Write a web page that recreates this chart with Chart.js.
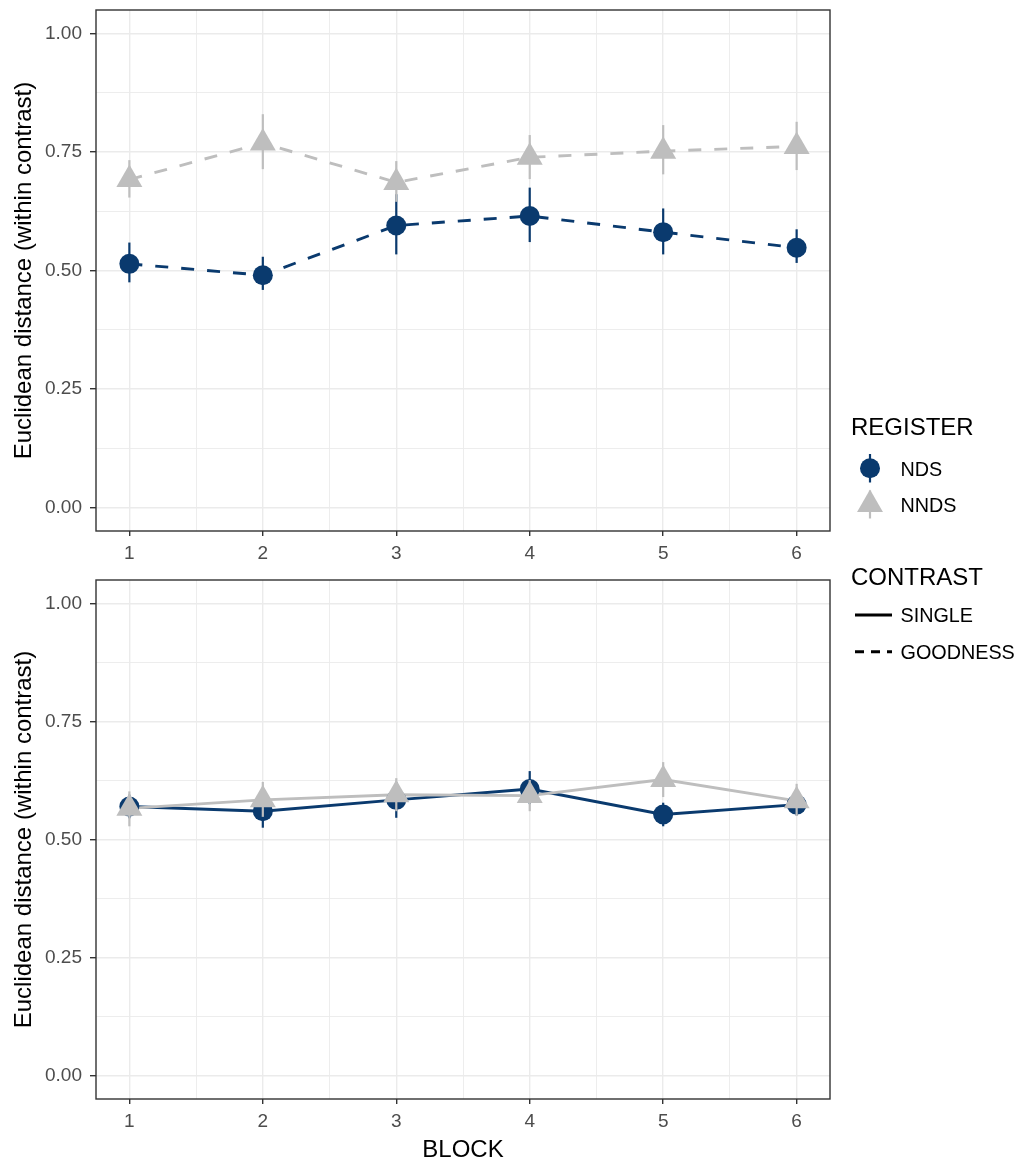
<!DOCTYPE html>
<html>
<head>
<meta charset="utf-8">
<script src="https://cdn.jsdelivr.net/npm/chart.js@4.4.0/dist/chart.umd.min.js"></script>
<style>
  html, body { margin: 0; padding: 0; background: #ffffff; }
  #wrap { position: relative; width: 1029px; height: 1162px; overflow: hidden; background: #ffffff; }
  canvas { position: absolute; left: 0; }
  #c1 { top: -5px; }
  #c2 { top: 565px; }
  #legend { position: absolute; left: 0; top: 0; pointer-events: none; }
</style>
</head>
<body>
<div id="wrap">
  <canvas id="c1" width="845" height="570"></canvas>
  <canvas id="c2" width="845" height="597"></canvas>
  <svg id="legend" width="1029" height="1162" xmlns="http://www.w3.org/2000/svg"></svg>
</div>
<script>
// ---- data ----
const blocks = [1, 2, 3, 4, 5, 6];
const xTickLabels = ['1', '2', '3', '4', '5', '6'];
const yTickValues = [0, 0.25, 0.5, 0.75, 1];
const yTickLabels = ['0.00', '0.25', '0.50', '0.75', '1.00'];
const registerLevels = ['NDS', 'NNDS'];
const contrastLevels = ['SINGLE', 'GOODNESS'];

// GOODNESS contrast (upper panel): means and interval bounds
const goodnessNds     = [0.514, 0.490, 0.595, 0.615, 0.581, 0.548];
const goodnessNdsLo   = [0.475, 0.459, 0.534, 0.560, 0.534, 0.516];
const goodnessNdsHi   = [0.559, 0.529, 0.661, 0.675, 0.631, 0.587];
const goodnessNnds    = [0.692, 0.769, 0.686, 0.739, 0.752, 0.762];
const goodnessNndsLo  = [0.654, 0.714, 0.645, 0.693, 0.703, 0.712];
const goodnessNndsHi  = [0.733, 0.830, 0.731, 0.786, 0.807, 0.814];

// SINGLE contrast (lower panel): means and interval bounds
const singleNds       = [0.570, 0.560, 0.584, 0.607, 0.553, 0.574];
const singleNdsLo     = [0.545, 0.525, 0.546, 0.575, 0.528, 0.551];
const singleNdsHi     = [0.595, 0.595, 0.622, 0.645, 0.578, 0.597];
const singleNnds      = [0.566, 0.584, 0.595, 0.593, 0.627, 0.582];
const singleNndsLo    = [0.528, 0.548, 0.560, 0.560, 0.590, 0.550];
const singleNndsHi    = [0.602, 0.622, 0.630, 0.626, 0.664, 0.618];

// ---- styling ----
const NAVY = '#0a3a6e';
const GREY = '#bebebe';
const FONT = '"Liberation Sans", Arial, Helvetica, sans-serif';
const yTitle = 'Euclidean distance (within contrast)';
const TICK_SIZE = 19, TITLE_SIZE = 24, KEY_SIZE = 19.8;

const near = (a, b) => Math.abs(a - b) < 1e-6;
const isMajorX = v => near(v, Math.round(v));
const isMajorY = v => yTickValues.some(t => near(t, v));
const pts = vals => blocks.map((b, i) => ({ x: b, y: vals[i] }));

// vertical interval lines, drawn just beneath each point layer
const errorBars = {
  id: 'errorBars',
  beforeDatasetDraw(chart, args) {
    const ds = chart.data.datasets[args.index];
    if (!ds.errLo) return;
    const { ctx, scales: { x, y } } = chart;
    ctx.save();
    ctx.strokeStyle = ds.pointBackgroundColor;
    ctx.lineWidth = 2.2;
    ds.data.forEach((p, i) => {
      const px = x.getPixelForValue(p.x);
      ctx.beginPath();
      ctx.moveTo(px, y.getPixelForValue(ds.errLo[i]));
      ctx.lineTo(px, y.getPixelForValue(ds.errHi[i]));
      ctx.stroke();
    });
    ctx.restore();
  }
};

// full frame around the plotting area
const panelBorder = {
  id: 'panelBorder',
  afterDraw(chart) {
    const { ctx, chartArea: a } = chart;
    ctx.save();
    ctx.strokeStyle = '#333333';
    ctx.lineWidth = 1.4;
    ctx.strokeRect(a.left, a.top, a.right - a.left, a.bottom - a.top);
    ctx.restore();
  }
};

function makePanel(canvasId, s, dash, padTop, xAxisHeight, showXTitle) {
  const lineDs = (vals, color, order) => ({
    data: pts(vals), showLine: true, borderColor: color, borderWidth: 2.9,
    borderDash: dash, pointRadius: 0, order: order
  });
  const pointDs = (vals, lo, hi, color, style, r, order) => ({
    data: pts(vals), showLine: false, pointStyle: style, pointRadius: r,
    pointBackgroundColor: color, pointBorderWidth: 0, pointBorderColor: color,
    errLo: lo, errHi: hi, order: order
  });
  return new Chart(document.getElementById(canvasId), {
    type: 'scatter',
    data: {
      datasets: [
        lineDs(s.nds, NAVY, 3),
        lineDs(s.nnds, GREY, 2),
        pointDs(s.nds, s.ndsLo, s.ndsHi, NAVY, 'circle', 10, 1),
        pointDs(s.nnds, s.nndsLo, s.nndsHi, GREY, 'triangle', 15, 0)
      ]
    },
    options: {
      animation: false,
      responsive: false,
      devicePixelRatio: 1,
      events: [],
      layout: { padding: { top: padTop, right: 10, left: 0, bottom: 0 } },
      plugins: { legend: { display: false }, tooltip: { enabled: false } },
      scales: {
        x: {
          type: 'linear', min: 0.75, max: 6.25,
          afterBuildTicks(scale) {
            const t = [];
            for (let v = 1; v <= 6.0001; v += 0.5) t.push({ value: v });
            scale.ticks = t;
          },
          afterFit(scale) {
            scale.height = xAxisHeight;
            scale.paddingLeft = 0; scale.paddingRight = 0;
          },
          ticks: {
            autoSkip: false, maxRotation: 0, padding: 6.1, color: '#4d4d4d',
            font: { family: FONT, size: TICK_SIZE },
            callback: v => isMajorX(v) ? xTickLabels[Math.round(v) - 1] : ''
          },
          grid: {
            color: '#ebebeb',
            lineWidth: c => (c.tick && isMajorX(c.tick.value)) ? 1.4 : 0.9,
            tickLength: 5,
            tickWidth: 1.4,
            tickColor: c => (c.tick && isMajorX(c.tick.value)) ? '#333333' : 'rgba(0,0,0,0)'
          },
          border: { display: false },
          title: {
            display: showXTitle, text: 'BLOCK', color: '#000000',
            font: { family: FONT, size: TITLE_SIZE, lineHeight: 1 },
            padding: { top: 0, bottom: 0 }
          }
        },
        y: {
          type: 'linear', min: -0.05, max: 1.05,
          afterBuildTicks(scale) {
            const t = [];
            for (let v = 0; v <= 1.0001; v += 0.125) t.push({ value: v });
            scale.ticks = t;
          },
          afterFit(scale) {
            scale.width = 96;
            scale.paddingTop = 0; scale.paddingBottom = 0;
          },
          ticks: {
            autoSkip: false, padding: 8, color: '#4d4d4d',
            font: { family: FONT, size: TICK_SIZE },
            callback: v => {
              const i = yTickValues.findIndex(t => near(t, v));
              return i >= 0 ? yTickLabels[i] : '';
            }
          },
          grid: {
            color: '#ebebeb',
            lineWidth: c => (c.tick && isMajorY(c.tick.value)) ? 1.4 : 0.9,
            tickLength: 6,
            tickWidth: 1.4,
            tickColor: c => (c.tick && isMajorY(c.tick.value)) ? '#333333' : 'rgba(0,0,0,0)'
          },
          border: { display: false },
          title: {
            display: true, text: yTitle, color: '#000000',
            font: { family: FONT, size: TITLE_SIZE, lineHeight: 1 },
            padding: { top: 12, bottom: 0 }
          }
        }
      }
    },
    plugins: [errorBars, panelBorder]
  });
}

makePanel('c1', {
  nds: goodnessNds, ndsLo: goodnessNdsLo, ndsHi: goodnessNdsHi,
  nnds: goodnessNnds, nndsLo: goodnessNndsLo, nndsHi: goodnessNndsHi
}, [13, 13], 15, 34, false);

makePanel('c2', {
  nds: singleNds, ndsLo: singleNdsLo, ndsHi: singleNdsHi,
  nnds: singleNnds, nndsLo: singleNndsLo, nndsHi: singleNndsHi
}, [], 15, 63, true);

// ---- legends ----
const svg = document.getElementById('legend');
const NS = 'http://www.w3.org/2000/svg';
function el(tag, attrs, text) {
  const e = document.createElementNS(NS, tag);
  for (const k in attrs) e.setAttribute(k, attrs[k]);
  if (text !== undefined) e.textContent = text;
  svg.appendChild(e);
  return e;
}
const keyX = 870, labelX = 900.5;
const titleAttrs = y => ({ x: 851, y: y, 'font-family': FONT, 'font-size': TITLE_SIZE, fill: '#000' });
const labelAttrs = y => ({ x: labelX, y: y, 'font-family': FONT, 'font-size': KEY_SIZE, fill: '#000' });

el('text', titleAttrs(434.6), 'REGISTER');
// NDS key: interval line + circle
el('line', { x1: keyX, y1: 454, x2: keyX, y2: 482.5, stroke: NAVY, 'stroke-width': 2.2 });
el('circle', { cx: keyX, cy: 468.3, r: 10, fill: NAVY });
el('text', labelAttrs(476.1), registerLevels[0]);
// NNDS key: interval line + triangle
el('line', { x1: keyX, y1: 490.5, x2: keyX, y2: 518.5, stroke: GREY, 'stroke-width': 2.2 });
{
  const cy = 504.6, r = 15;
  const p = [[keyX, cy - r], [keyX + r * Math.sin(2 * Math.PI / 3), cy + r / 2], [keyX - r * Math.sin(2 * Math.PI / 3), cy + r / 2]];
  el('polygon', { points: p.map(q => q.join(',')).join(' '), fill: GREY });
}
el('text', labelAttrs(512.1), registerLevels[1]);

el('text', titleAttrs(585.3), 'CONTRAST');
el('line', { x1: 855, y1: 615, x2: 892, y2: 615, stroke: '#000', 'stroke-width': 3 });
el('text', labelAttrs(622.1), contrastLevels[0]);
el('line', { x1: 855, y1: 651.7, x2: 892, y2: 651.7, stroke: '#000', 'stroke-width': 3, 'stroke-dasharray': '9 7' });
el('text', labelAttrs(658.8), contrastLevels[1]);
</script>
</body>
</html>
